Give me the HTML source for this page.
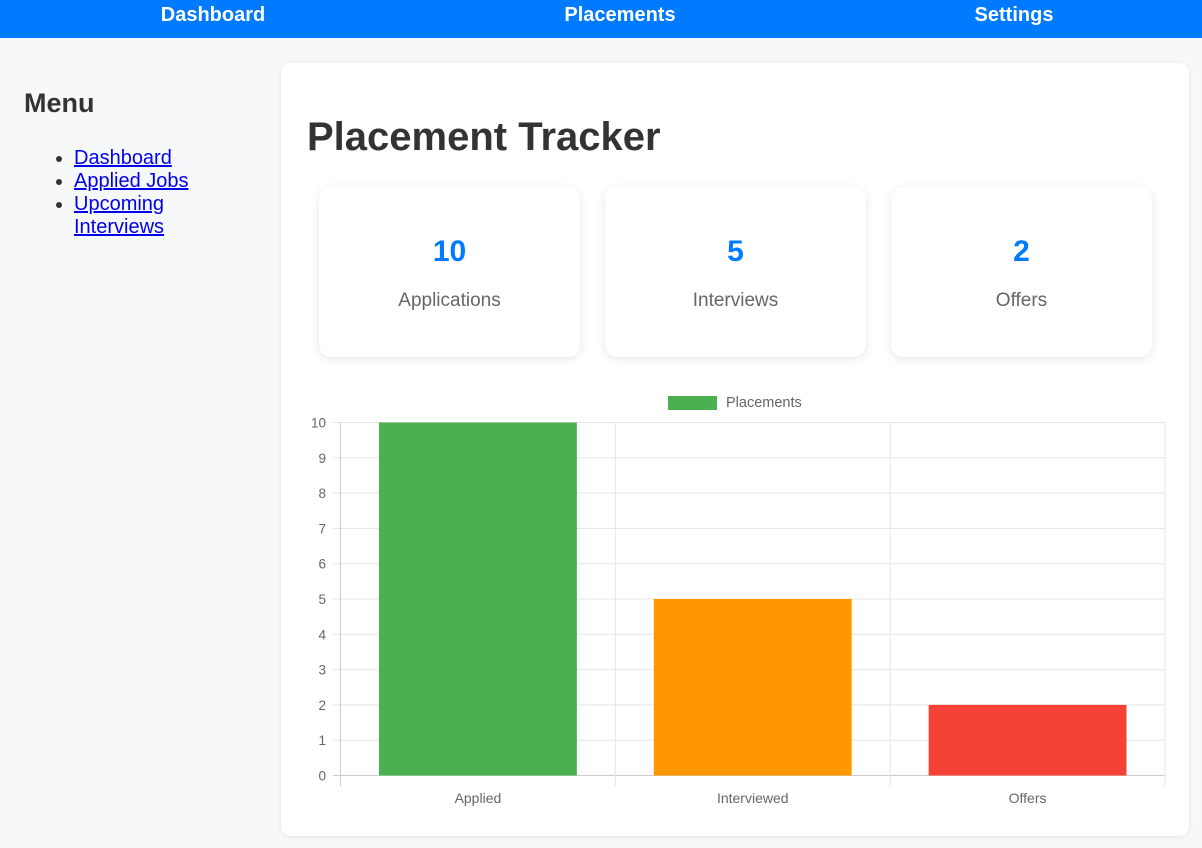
<!DOCTYPE html>
<html><head><meta charset="utf-8">
<style>
*{box-sizing:border-box}
body{margin:0;width:1202px;height:848px;background:#f7f8fa;font-family:"Liberation Sans",Arial,sans-serif;overflow:hidden;position:relative}
.nav{position:absolute;left:0;top:0;width:1202px;height:38px;background:#007bff}
.nav span{position:absolute;top:4px;color:#fff;font-weight:bold;font-size:20px;transform:translateX(-50%)}
.side{position:absolute;left:24px;top:88px;width:220px}
.side h2{margin:0;font-size:27px;color:#333;font-weight:bold}
.side ul{margin:28px 0 0 0;padding-left:50px;font-size:20px;line-height:23px;color:#333}
.side a{color:#0000ee;text-decoration:underline}
.card{position:absolute;left:281px;top:63px;width:908px;height:773px;background:#fff;border-radius:10px;box-shadow:0 1px 6px rgba(0,0,0,.08)}
.card h1{position:absolute;left:26px;top:52px;margin:0;font-size:40px;color:#333}
.stat{position:absolute;top:124px;width:261px;height:170px;background:#fff;border-radius:12px;box-shadow:0 2px 10px rgba(0,0,0,.1);text-align:center}
.stat .n{position:absolute;top:48px;width:100%;font-size:30px;font-weight:bold;color:#007bff}
.stat .l{position:absolute;top:103px;width:100%;font-size:19px;color:#666}
</style></head><body>
<div class="nav">
<span style="left:213px">Dashboard</span>
<span style="left:620px">Placements</span>
<span style="left:1014px">Settings</span>
</div>
<div class="side">
<h2>Menu</h2>
<ul>
<li><a>Dashboard</a></li>
<li><a>Applied Jobs</a></li>
<li><a>Upcoming Interviews</a></li>
</ul></div>
<div class="card">
<h1>Placement Tracker</h1>
<div class="stat" style="left:38px"><div class="n">10</div><div class="l">Applications</div></div>
<div class="stat" style="left:324px"><div class="n">5</div><div class="l">Interviews</div></div>
<div class="stat" style="left:610px"><div class="n">2</div><div class="l">Offers</div></div>
</div>
<svg id="chart" width="1202" height="848" style="position:absolute;left:0;top:0"></svg>
<script>
const categories=["Applied","Interviewed","Offers"];
const values=[10,5,2];
const colors=["#4caf50","#ff9800","#f44336"];
const yTicks=[0,1,2,3,4,5,6,7,8,9,10];
const NS="http://www.w3.org/2000/svg";
const svg=document.getElementById('chart');
const L=340.5,R=1165,T=422.5,B=775.5,yMax=10;
const y=v=>B-(v/yMax)*(B-T);
const bw=(R-L)/categories.length;
const x=i=>L+i*bw;
function mk(t,a,txt){const e=document.createElementNS(NS,t);for(const k in a)e.setAttribute(k,a[k]);if(txt!=null)e.textContent=txt;svg.appendChild(e);return e;}
yTicks.forEach(v=>{
 const g=mk('line',{x1:333,x2:R,y1:y(v),y2:y(v),stroke:v===0?'#ccc':'#e5e5e5','stroke-width':1});
 
 
 const t=mk('text',{x:326,y:y(v)+5,'text-anchor':'end','font-size':13.5,fill:'#666','font-family':'Liberation Sans, Arial, sans-serif'},v);
 
 
});
for(let i=0;i<=categories.length;i++){
 const g=mk('line',{x1:x(i),x2:x(i),y1:T,y2:786,stroke:i===0?'#ccc':'#e5e5e5','stroke-width':1});
 
 
}
categories.forEach((c,i)=>{
 const w=bw*0.72;
 const r=mk('rect',{x:x(i)+(bw-w)/2,y:y(values[i]),width:w,height:B-y(values[i]),fill:colors[i]});
 
 
 const t=mk('text',{x:x(i)+bw/2,y:803,'text-anchor':'middle','font-size':14,fill:'#666','font-family':'Liberation Sans, Arial, sans-serif'},c);
 
 
});
const lb=mk('rect',{x:668,y:396,width:49,height:14,fill:'#4caf50'});


const lt=mk('text',{x:726,y:407,'font-size':14.5,fill:'#666','font-family':'Liberation Sans, Arial, sans-serif'},'Placements');


</script>
</body></html>
